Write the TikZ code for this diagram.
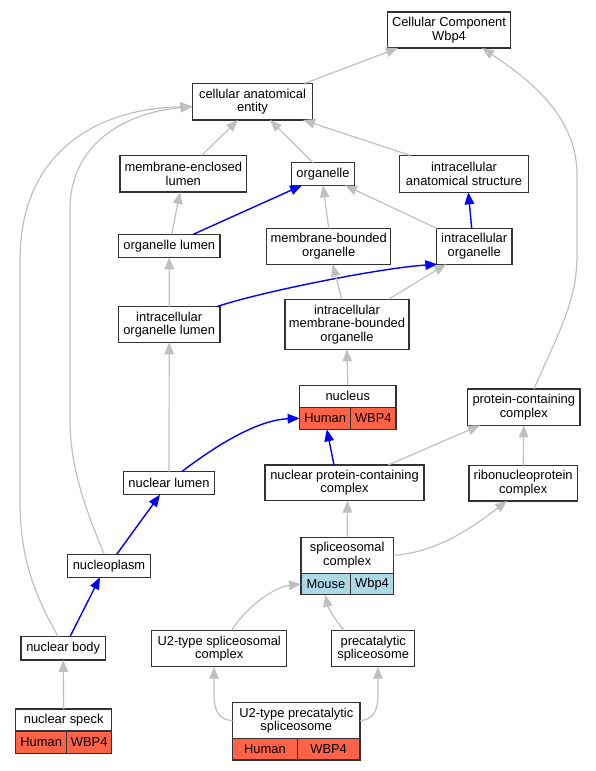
\documentclass[tikz,border=0pt]{standalone}
\usepackage{fontspec}
\setmainfont{Liberation Sans}
\usetikzlibrary{arrows.meta,calc}
\definecolor{edgegray}{HTML}{C0C0C0}
\definecolor{tomatoc}{HTML}{FF6347}
\definecolor{lightb}{HTML}{ADD8E6}
\newcommand\gnf{\fontsize{12.9}{13.6}\selectfont}
\tikzset{
  box/.style={draw=black!80, line width=1.2pt, fill=white, inner sep=0pt, outer sep=0pt, align=center, font=\gnf},
  holder/.style={inner sep=0pt, outer sep=0pt},
  isa/.style={draw=edgegray, line width=1.2pt, -{Triangle[length=12pt,width=9.5pt]}},
  partof/.style={draw=blue, line width=1.4pt, -{Triangle[length=12pt,width=9.5pt]}},
}
\begin{document}
\begin{tikzpicture}[x=1pt,y=-1pt]
\useasboundingbox (0,0) rectangle (596,771);
% plain nodes
\node[box, minimum width=123, minimum height=36] (ccw) at (449,30) {Cellular Component\\Wbp4};
\node[box, minimum width=120, minimum height=36.5] (cae) at (252.5,101.7) {cellular anatomical\\entity};
\node[box, minimum width=126.7, minimum height=36.7] (mel) at (183.3,173.7) {membrane-enclosed\\lumen};
\node[box, minimum width=62.6, minimum height=22.7] (org) at (323,174) {organelle};
\node[box, minimum width=128.6, minimum height=37] (ias) at (464,173.8) {intracellular\\anatomical structure};
\node[box, minimum width=101.3, minimum height=23] (ol) at (169.3,245.8) {organelle lumen};
\node[box, minimum width=124, minimum height=36] (mbo) at (328.7,246.3) {membrane-bounded\\organelle};
\node[box, minimum width=75.7, minimum height=36] (io) at (474.2,246.3) {intracellular\\organelle};
\node[box, minimum width=101.7, minimum height=35.6] (iol) at (169.2,324.5) {intracellular\\organelle lumen};
\node[box, minimum width=124, minimum height=50] (imbo) at (347,324.3) {intracellular\\membrane-bounded\\organelle};
\node[box, minimum width=112.3, minimum height=36.3] (pcc) at (523.8,407.2) {protein-containing\\complex};
\node[box, minimum width=91.4, minimum height=23] (nl) at (169,483.2) {nuclear lumen};
\node[box, minimum width=159, minimum height=35.7] (npcc) at (344.5,482.8) {nuclear protein-containing\\complex};
\node[box, minimum width=108.3, minimum height=35.3] (rnp) at (523.2,483.3) {ribonucleoprotein\\complex};
\node[box, minimum width=82.6, minimum height=23] (np) at (109,565.8) {nucleoplasm};
\node[box, minimum width=84.3, minimum height=23.3] (nb) at (63.2,648.3) {nuclear body};
\node[box, minimum width=135, minimum height=36.4] (u2sc) at (219.2,648.5) {U2-type spliceosomal\\complex};
\node[box, minimum width=83, minimum height=36.4] (ps) at (373.2,648.5) {precatalytic\\spliceosome};
% record: nucleus
\node[holder, minimum width=96.3, minimum height=44] (nucleus) at (347.8,407.3) {};
\node[box, anchor=north, minimum width=96.3, minimum height=22] (nucleusT) at (nucleus.north) {nucleus};
\node[box, fill=tomatoc, anchor=south west, minimum width=51, minimum height=22] (nucleusH) at (nucleus.south west) {Human};
\node[box, fill=tomatoc, anchor=south east, minimum width=45.3, minimum height=22] (nucleusW) at (nucleus.south east) {WBP4};
% record: spliceosomal complex
\node[holder, minimum width=92.3, minimum height=57.4] (sc) at (347.2,566) {};
\node[box, anchor=north, minimum width=92.3, minimum height=36] (scT) at (sc.north) {spliceosomal\\complex};
\node[box, fill=lightb, anchor=south west, minimum width=49.7, minimum height=21.4] (scM) at (sc.south west) {Mouse};
\node[box, fill=lightb, anchor=south east, minimum width=42.6, minimum height=21.4] (scW) at (sc.south east) {Wbp4};
% record: nuclear speck
\node[holder, minimum width=96, minimum height=44.3] (ns) at (63.7,731.2) {};
\node[box, anchor=north, minimum width=96, minimum height=22] (nsT) at (ns.north) {nuclear speck};
\node[box, fill=tomatoc, anchor=south west, minimum width=51, minimum height=22.3] (nsH) at (ns.south west) {Human};
\node[box, fill=tomatoc, anchor=south east, minimum width=45, minimum height=22.3] (nsW) at (ns.south east) {WBP4};
% record: U2-type precatalytic spliceosome
\node[holder, minimum width=127.3, minimum height=57.3] (u2ps) at (296.3,731.3) {};
\node[box, anchor=north, minimum width=127.3, minimum height=36] (u2psT) at (u2ps.north) {U2-type precatalytic\\spliceosome};
\node[box, fill=tomatoc, anchor=south west, minimum width=64.6, minimum height=21.3] (u2psH) at (u2ps.south west) {Human};
\node[box, fill=tomatoc, anchor=south east, minimum width=62.7, minimum height=21.3] (u2psW) at (u2ps.south east) {WBP4};
% edges
\draw[isa] ($(cae.north)+(52,0)$) -- ($(ccw.south)+(-51,0)$);
\draw[isa] ($(mel.north)+(18.4,0)$) -- ($(cae.south)+(-14.5,0)$);
\draw[isa] ($(org.north)+(-10,0)$) -- ($(cae.south)+(17.5,0)$);
\draw[isa] ($(ias.north)+(-54,0)$) -- ($(cae.south)+(50.5,0)$);
\draw[isa] ($(ol.north)+(2.4,0)$) -- ($(mel.south)+(-3.3,0)$);
\draw[partof] ($(ol.north)+(24,0)$) -- ($(org.south)+(-21,0)$);
\draw[isa] (mbo.north) -- (org.south);
\draw[isa] ($(io.north)+(-37.5,0)$) -- ($(org.south)+(22,0)$);
\draw[partof] ($(io.north)+(-2.5,0)$) -- ($(ias.south)+(4.3,0)$);
\draw[isa] (iol.north) -- (ol.south);
\draw[partof] ($(iol.north)+(47.5,0)$) .. controls (260,292) and (380,268) .. ($(io.south west)+(1,0)$);
\draw[isa] ($(imbo.north)+(-5.3,0)$) -- ($(mbo.south)+(4,0)$);
\draw[isa] ($(imbo.north)+(41.3,0)$) -- ($(io.south)+(-28,0)$);
\draw[isa] (nucleus.north) -- (imbo.south);
\draw[isa] (nl.north) -- (iol.south);
\draw[partof] ($(nl.north)+(12.7,0)$) .. controls (210,450) and (255,420) .. (nucleusH.west);
\draw[partof] ($(npcc.north)+(-10.5,0)$) -- ($(nucleus.south)+(-21,0)$);
\draw[isa] ($(npcc.north)+(43.8,0)$) -- ($(pcc.south)+(-44,0)$);
\draw[isa] ($(pcc.north)+(10,0)$) .. controls (560,330) and (577,300) .. (577,255) -- (577,175) .. controls (577,115) and (527,78) .. ($(ccw.south)+(33,0)$);
\draw[isa] (rnp.north) -- (pcc.south);
\draw[isa] (sc.north) -- ($(npcc.south)+(3,0)$);
\draw[isa] (scT.east) .. controls (440,552) and (475,525) .. ($(rnp.south)+(-16,0)$);
\draw[partof] ($(np.north)+(7.7,0)$) -- ($(nl.south)+(-9,0)$);
\draw[isa] ($(np.north)+(-4.7,0)$) .. controls (88,515) and (70,470) .. (70,420) -- (70,210) .. controls (70,140) and (130,112) .. ($(cae.west)+(0,5)$);
\draw[partof] ($(nb.north)+(6.8,0)$) -- ($(np.south)+(-9,0)$);
\draw[isa] ($(nb.north)+(-5,0)$) .. controls (35,595) and (20,560) .. (20,500) -- (20,260) .. controls (20,150) and (100,108) .. ($(cae.west)+(0,5)$);
\draw[isa] ($(u2sc.north)+(12.5,0)$) .. controls (248,605) and (275,587) .. (scM.west);
\draw[isa] ($(ps.north)+(-29,0)$) .. controls (335,620) and (328,607) .. ($(sc.south)+(-22,0)$);
\draw[isa] (ns.north) -- (nb.south);
\draw[isa] (u2psT.west) .. controls (220,720) and (214,712) .. (214,695) -- ($(u2sc.south)+(-5.2,0)$);
\draw[isa] (u2psT.east) .. controls (372,720) and (378,712) .. (378,695) -- ($(ps.south)+(4.8,0)$);
\end{tikzpicture}
\end{document}
